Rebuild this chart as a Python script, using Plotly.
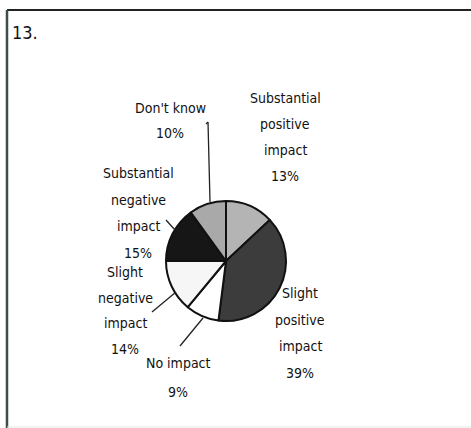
import plotly.graph_objects as go

W, H = 471, 428

labels = ["Substantial positive impact", "Slight positive impact", "No impact",
          "Slight negative impact", "Substantial negative impact", "Don't know"]
values = [13, 39, 9, 14, 15, 10]
colors = ["#b4b4b4", "#3c3c3c", "#ffffff", "#f6f6f6", "#161616", "#a9a9a9"]
label_lines = [["Substantial", "positive", "impact", "13%"],
               ["Slight", "positive", "impact", "39%"],
               ["No impact", "9%"],
               ["Slight", "negative", "impact", "14%"],
               ["Substantial", "negative", "impact", "15%"],
               ["Don't know", "10%"]]

def px(x):
    return x / W

def py(y):
    return 1 - y / H

FONT = "DejaVu Sans Condensed, Liberation Sans Narrow, sans-serif"

cx, cy, r = 226, 261, 60

fig = go.Figure(go.Pie(
    labels=labels, values=values, sort=False, direction="clockwise", rotation=0,
    marker=dict(colors=colors, line=dict(color="#111111", width=2)),
    textinfo="none", hoverinfo="label+percent", showlegend=False,
    domain=dict(x=[px(cx - r), px(cx + r)], y=[py(cy + r), py(cy - r)]),
))

# label text positions (pixel centres of first line) and line spacing
label_pos = [(285, 98), (300, 293), (178, 363), (125, 272), (138, 173), (170, 108)]
spacing = [26, 26.5, 29, 25.5, 26.7, 25]

annotations = []
for lines, (lx, ly), sp in zip(label_lines, label_pos, spacing):
    for i, t in enumerate(lines):
        annotations.append(dict(
            x=px(lx), y=py(ly + i * sp), xref="paper", yref="paper",
            text=t, showarrow=False, xanchor="center", yanchor="middle",
            font=dict(family=FONT, size=14, color="#111111"),
        ))
annotations.append(dict(
    x=px(10), y=py(32), xref="paper", yref="paper", text="13.",
    showarrow=False, xanchor="left", yanchor="middle",
    font=dict(family=FONT, size=18, color="#111111"),
))

shapes = []
# leader lines
leaders = [((206, 124), (208, 122)), ((208, 122), (210, 202)),
           ((166, 220), (175, 230)),
           ((152, 312), (176, 292)),
           ((180, 346), (203, 318))]
for (x0, y0), (x1, y1) in leaders:
    shapes.append(dict(type="line", xref="paper", yref="paper",
                       x0=px(x0), y0=py(y0), x1=px(x1), y1=py(y1),
                       line=dict(color="#222222", width=1.3)))
# frame
shapes.append(dict(type="line", xref="paper", yref="paper",
                   x0=px(7), y0=py(10), x1=px(471), y1=py(10),
                   line=dict(color="#222222", width=2)))
shapes.append(dict(type="line", xref="paper", yref="paper",
                   x0=px(7), y0=py(10), x1=px(7), y1=py(428),
                   line=dict(color="#3e4d48", width=2.5)))
shapes.append(dict(type="line", xref="paper", yref="paper",
                   x0=px(7), y0=py(427), x1=px(471), y1=py(427),
                   line=dict(color="#e6e6e6", width=1)))

fig.update_layout(
    width=W, height=H, margin=dict(l=0, r=0, t=0, b=0),
    paper_bgcolor="white", plot_bgcolor="white",
    annotations=annotations, shapes=shapes,
)

fig.write_html("out.html", config={"displayModeBar": False},
               post_script="document.body.style.margin='0';document.body.style.overflow='hidden';")
